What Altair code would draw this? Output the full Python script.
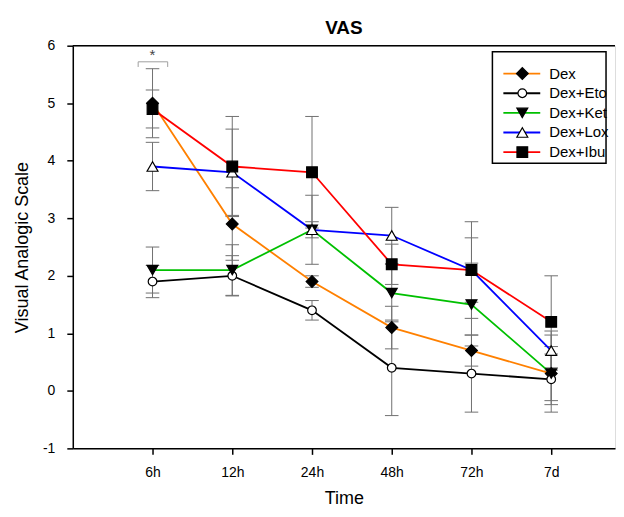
import json
import altair as alt
import pandas as pd

# ---- data ----
time_labels = ["6h", "12h", "24h", "48h", "72h", "7d"]
series_names = ["Dex", "Dex+Eto", "Dex+Ket", "Dex+Lox", "Dex+Ibu"]

dex = [5.0, 2.9, 1.9, 1.1, 0.7, 0.3]
dex_err = [0.60, 0.63, 0.10, 0.37, 0.27, 0.47]
eto = [1.9, 2.0, 1.4, 0.4, 0.3, 0.2]
eto_err = [0.28, 0.35, 0.17, 0.83, 0.67, 0.44]
ket = [2.1, 2.1, 2.8, 1.7, 1.5, 0.3]
ket_err = [0.40, 0.44, 0.14, 0.50, 0.72, 0.67]
lox = [3.9, 3.8, 2.8, 2.7, 2.1, 0.7]
lox_err = [0.42, 0.75, 0.60, 0.49, 0.56, 0.34]
ibu = [4.9, 3.9, 3.8, 2.2, 2.1, 1.2]
ibu_err = [0.33, 0.87, 0.97, 0.35, 0.84, 0.80]

# ---- styles ----
line_colors = ["#FF8000", "#000000", "#00C000", "#0000FF", "#FF0000"]
shapes = ["diamond", "circle", "triangle-down", "triangle-up", "square"]
fills = ["black", "white", "black", "white", "black"]
sizes = [140, 75, 120, 120, 115]

values = [dex, eto, ket, lox, ibu]
errors = [dex_err, eto_err, ket_err, lox_err, ibu_err]

rows = []
for s, vals, errs in zip(series_names, values, errors):
    for i, (v, e) in enumerate(zip(vals, errs)):
        rows.append({"series": s, "t": i + 1, "v": v, "lo": v - e, "hi": v + e})
df = pd.DataFrame(rows)

FONT = "Liberation Sans"
W, H = 544, 404
UNIT = 80.0
label_expr = json.dumps([""] + time_labels) + "[datum.value]"

xscale = alt.Scale(domain=[0, W / UNIT], nice=False, zero=False)
yscale = alt.Scale(domain=[-1, 6], nice=False, zero=False)

x_axis = alt.Axis(values=[1, 2, 3, 4, 5, 6], labelExpr=label_expr, title="Time",
                  grid=False, domainColor="black", domainWidth=1.5, tickColor="black",
                  tickWidth=1.5, tickSize=6, labelPadding=11, labelFontSize=14,
                  labelColor="black", titleFontSize=18, titleFontWeight="normal",
                  titlePadding=10, labelFont=FONT, titleFont=FONT, titleColor="black")
y_axis = alt.Axis(values=[-1, 0, 1, 2, 3, 4, 5, 6], labelExpr="'' + datum.value",
                  title="Visual Analogic Scale",
                  grid=False, domainColor="black", domainWidth=1.5, tickColor="black",
                  tickWidth=1.5, tickSize=6, labelPadding=12, labelFontSize=14,
                  labelColor="black", titleFontSize=18, titleFontWeight="normal",
                  titlePadding=11, labelFont=FONT, titleFont=FONT, titleColor="black")

base = alt.Chart(df)
X = alt.X("t:Q", scale=xscale, axis=x_axis)
Y = alt.Y("v:Q", scale=yscale, axis=y_axis)

err_color = "#707070"
err_rule = base.mark_rule(color=err_color, strokeWidth=1).encode(
    x=alt.X("t:Q", scale=xscale), y=alt.Y("lo:Q", scale=yscale), y2="hi:Q")
cap_lo = base.transform_calculate(xa="datum.t - 0.085", xb="datum.t + 0.085").mark_rule(
    color=err_color, strokeWidth=1).encode(
    x=alt.X("xa:Q", scale=xscale), x2="xb:Q", y=alt.Y("lo:Q", scale=yscale))
cap_hi = base.transform_calculate(xa="datum.t - 0.085", xb="datum.t + 0.085").mark_rule(
    color=err_color, strokeWidth=1).encode(
    x=alt.X("xa:Q", scale=xscale), x2="xb:Q", y=alt.Y("hi:Q", scale=yscale))

lines = base.mark_line(strokeWidth=1.8).encode(
    x=X, y=Y,
    color=alt.Color("series:N", scale=alt.Scale(domain=series_names, range=line_colors),
                    legend=None),
    order="t:Q")

point_layers = []
for s, shp, fl, sz in zip(series_names, shapes, fills, sizes):
    point_layers.append(
        base.transform_filter(alt.datum.series == s).mark_point(
            shape=shp, filled=True, fill=fl, stroke="black", strokeWidth=1.2,
            size=sz, opacity=1).encode(x=alt.X("t:Q", scale=xscale),
                                        y=alt.Y("v:Q", scale=yscale)))

# top frame line
top_df = pd.DataFrame({"v": [6]})
top_line = alt.Chart(top_df).mark_rule(color="black", strokeWidth=1.5).encode(
    y=alt.Y("v:Q", scale=yscale), x=alt.value(0), x2=alt.value(W))

# significance bracket at 6h
br_df = pd.DataFrame({"xa": [0.82], "xb": [1.19], "yb": [5.72], "ye": [5.63]})
br_h = alt.Chart(br_df).mark_rule(color="#a0a0a0", strokeWidth=1).encode(
    x=alt.X("xa:Q", scale=xscale), x2="xb:Q", y=alt.Y("yb:Q", scale=yscale))
br_l = alt.Chart(br_df).mark_rule(color="#a0a0a0", strokeWidth=1).encode(
    x=alt.X("xa:Q", scale=xscale), y=alt.Y("yb:Q", scale=yscale), y2="ye:Q")
br_r = alt.Chart(br_df).mark_rule(color="#a0a0a0", strokeWidth=1).encode(
    x=alt.X("xb:Q", scale=xscale), y=alt.Y("yb:Q", scale=yscale), y2="ye:Q")
star_df = pd.DataFrame({"t": [1.0], "v": [5.84], "txt": ["*"]})
star = alt.Chart(star_df).mark_text(font=FONT, fontSize=15, color="#444444").encode(
    x=alt.X("t:Q", scale=xscale), y=alt.Y("v:Q", scale=yscale), text="txt:N")

# custom legend
LX0, LX1, LY0, LY1 = 421, 535, 6, 118
leg_df = pd.DataFrame({"series": series_names})
legend_box = alt.Chart(leg_df).transform_filter(alt.datum.series == series_names[0]).mark_rect(
    fill="white", stroke="black", strokeWidth=1.5).encode(
    x=alt.value(LX0), x2=alt.value(LX1), y=alt.value(LY0), y2=alt.value(LY1))
legend_layers = [legend_box]
for i, (s, col, shp, fl, sz) in enumerate(zip(series_names, line_colors, shapes, fills, sizes)):
    yy = 28 + i * 19.7
    one = alt.Chart(pd.DataFrame({"series": [s]}))
    legend_layers.append(one.mark_rule(color=col, strokeWidth=1.8).encode(
        x=alt.value(432), x2=alt.value(469), y=alt.value(yy)))
    legend_layers.append(one.mark_point(
        shape=shp, filled=True, fill=fl, stroke="black", strokeWidth=1.2,
        size=sz, opacity=1).encode(x=alt.value(451), y=alt.value(yy)))
    legend_layers.append(one.mark_text(
        align="left", baseline="middle", font=FONT, fontSize=15, color="black").encode(
        x=alt.value(478), y=alt.value(yy), text="series:N"))

chart = alt.layer(
    err_rule, cap_lo, cap_hi, lines, *point_layers, top_line, br_h, br_l, br_r, star,
    *legend_layers
).properties(
    width=W, height=H,
    title=alt.TitleParams("VAS", fontSize=19, fontWeight="bold", font=FONT,
                          anchor="middle", offset=1, color="black"),
    padding={"left": 5, "top": 10, "right": 0, "bottom": 0},
).configure_view(stroke=None).configure(background="white")

chart.save("out.html", embed_options={"renderer": "svg", "actions": False})
